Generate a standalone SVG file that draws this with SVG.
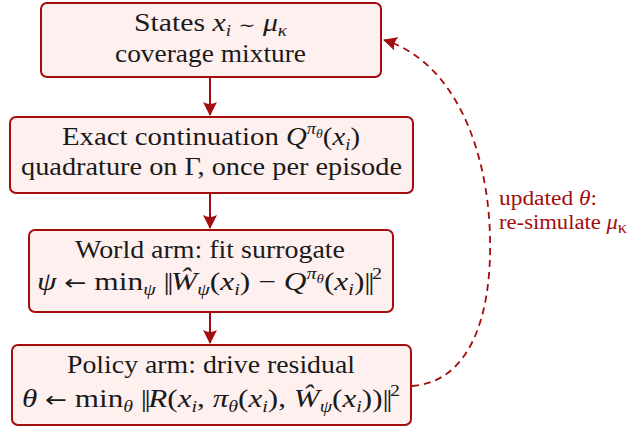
<svg xmlns="http://www.w3.org/2000/svg" width="639" height="429" viewBox="0 0 639 429">
  <defs>
    <style>
      .box { fill: #fff0f0; stroke: #a30d0d; stroke-width: 2; }
      .t { font-family: "Liberation Serif", "Times New Roman", serif; font-size: 25px; fill: #1a1a1a; }
      .m { font-style: italic; }
      .s { font-size: 16px; }
      .ss { font-size: 12px; }
      .sim { font-family: "DejaVu Serif", serif; font-size: 17px; }
      .arr { font-family: "DejaVu Sans", sans-serif; font-size: 21px; }
      .nrm { letter-spacing: -2px; }
      .flow { fill: none; stroke: #a30d0d; stroke-width: 2; }
      .loop { fill: none; stroke: #a30d0d; stroke-width: 1.8; stroke-dasharray: 7 5; }
      .lbl { font-family: "Liberation Serif", "Times New Roman", serif; font-size: 20px; fill: #a30d0d; }
    </style>
    <marker id="head" viewBox="0 0 14 14" refX="13" refY="7" markerWidth="14" markerHeight="14" markerUnits="userSpaceOnUse" orient="auto">
      <path d="M0,0 L14,7 L0,14 Q4,7 0,0 Z" fill="#a30d0d"/>
    </marker>
  </defs>

  <!-- connectors -->
  <g id="connectors">
    <line class="flow" x1="210" y1="78" x2="210" y2="115" marker-end="url(#head)"/>
    <line class="flow" x1="210" y1="194" x2="210" y2="228" marker-end="url(#head)"/>
    <line class="flow" x1="210" y1="313" x2="210" y2="343" marker-end="url(#head)"/>
    <path class="loop" d="M412,386 C468,382 492,320 490,237 C488,150 455,62 384,40" marker-end="url(#head)"/>
    <text class="lbl" x="499" y="205" textLength="98" lengthAdjust="spacingAndGlyphs">updated <tspan class="m">θ</tspan>:</text>
    <text class="lbl" x="499" y="229" textLength="128" lengthAdjust="spacingAndGlyphs">re-simulate <tspan class="m">μ</tspan><tspan class="s" dy="4">κ</tspan></text>
  </g>

  <!-- sampling of states -->
  <g id="states">
    <rect class="box" x="41" y="3" width="340" height="74" rx="6"/>
    <text class="t" x="134" y="31" textLength="153" lengthAdjust="spacingAndGlyphs">States <tspan class="m">x</tspan><tspan class="s m" dy="5">i</tspan><tspan dy="-5"> </tspan><tspan class="sim">∼</tspan> <tspan class="m">μ</tspan><tspan class="s m" dy="5">κ</tspan></text>
    <text class="t" x="115" y="62" textLength="191" lengthAdjust="spacingAndGlyphs">coverage mixture</text>
  </g>

  <!-- exact continuation value -->
  <g id="continuation">
    <rect class="box" x="10" y="117" width="403" height="76" rx="6"/>
    <text class="t" x="62" y="145" textLength="298" lengthAdjust="spacingAndGlyphs">Exact continuation <tspan class="m">Q</tspan><tspan class="s m" dy="-11">π</tspan><tspan class="ss m" dy="4">θ</tspan><tspan dy="7">(</tspan><tspan class="m">x</tspan><tspan class="s m" dy="5">i</tspan><tspan dy="-5">)</tspan></text>
    <text class="t" x="21" y="175" textLength="381" lengthAdjust="spacingAndGlyphs">quadrature on Γ, once per episode</text>
  </g>

  <!-- world arm -->
  <g id="world-arm">
    <rect class="box" x="29" y="230" width="364" height="82" rx="6"/>
    <text class="t" x="75" y="258" textLength="270" lengthAdjust="spacingAndGlyphs">World arm: fit surrogate</text>
    <text class="t" x="37" y="290" textLength="345" lengthAdjust="spacingAndGlyphs"><tspan class="m">ψ</tspan> <tspan class="arr">←</tspan> min<tspan class="s m" dy="5">ψ</tspan><tspan dy="-5"> </tspan><tspan class="nrm">||</tspan><tspan class="m">Ŵ</tspan><tspan class="s m" dy="5">ψ</tspan><tspan dy="-5">(</tspan><tspan class="m">x</tspan><tspan class="s m" dy="5">i</tspan><tspan dy="-5">) − </tspan><tspan class="m">Q</tspan><tspan class="s m" dy="-11">π</tspan><tspan class="ss m" dy="4">θ</tspan><tspan dy="7">(</tspan><tspan class="m">x</tspan><tspan class="s m" dy="5">i</tspan><tspan dy="-5">)</tspan><tspan class="nrm">||</tspan><tspan class="s" dy="-11">2</tspan></text>
  </g>

  <!-- policy arm -->
  <g id="policy-arm">
    <rect class="box" x="12" y="345" width="399" height="80" rx="6"/>
    <text class="t" x="67" y="373" textLength="288" lengthAdjust="spacingAndGlyphs">Policy arm: drive residual</text>
    <text class="t" x="22" y="407" textLength="378" lengthAdjust="spacingAndGlyphs"><tspan class="m">θ</tspan> <tspan class="arr">←</tspan> min<tspan class="s m" dy="5">θ</tspan><tspan dy="-5"> </tspan><tspan class="nrm">||</tspan><tspan class="m">R</tspan>(<tspan class="m">x</tspan><tspan class="s m" dy="5">i</tspan><tspan dy="-5">, </tspan><tspan class="m">π</tspan><tspan class="s m" dy="5">θ</tspan><tspan dy="-5">(</tspan><tspan class="m">x</tspan><tspan class="s m" dy="5">i</tspan><tspan dy="-5">), </tspan><tspan class="m">Ŵ</tspan><tspan class="s m" dy="5">ψ</tspan><tspan dy="-5">(</tspan><tspan class="m">x</tspan><tspan class="s m" dy="5">i</tspan><tspan dy="-5">))</tspan><tspan class="nrm">||</tspan><tspan class="s" dy="-11">2</tspan></text>
  </g>
</svg>
